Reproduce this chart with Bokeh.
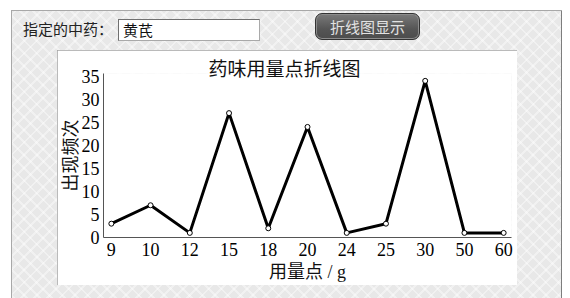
from bokeh.plotting import figure
from bokeh.models import Div, Range1d, FixedTicker
from bokeh.layouts import column
from bokeh.embed import file_html
from bokeh.resources import INLINE

# data
doses = ["9", "10", "12", "15", "18", "20", "24", "25", "30", "50", "60"]
freq = [3, 7, 1, 27, 2, 24, 1, 3, 34, 1, 1]
y_ticks = [0, 5, 10, 15, 20, 25, 30, 35]
title_text = "药味用量点折线图"
x_label = "用量点 / g"
y_label = "出现频次"
herb_label = "指定的中药："
herb_value = "黄芪"
button_label = "折线图显示"

xs = list(range(len(doses)))

CJK = "Noto Sans CJK SC"
SERIF = "Liberation Serif"

p = figure(width=460, height=235, output_backend="svg", toolbar_location=None,
           x_range=Range1d(-0.2, len(doses) - 1 + 0.2), y_range=Range1d(0, 35.6),
           min_border_left=45, min_border_right=6, min_border_top=23, min_border_bottom=48,
           background_fill_color="white", border_fill_color="white",
           outline_line_color=None, margin=(0, 53, 13, 57),
           styles={"outline": "1px solid #a3a3a3", "outline-offset": "-1px"})

p.title.text = title_text
p.title.text_font = CJK
p.title.text_font_size = "19px"
p.title.text_font_style = "normal"
p.title.text_color = "#111111"
p.title.align = "left"
p.title.offset = 105
p.title.standoff = -15

p.line(xs, freq, line_width=3, color="black")
p.scatter(xs, freq, size=5, fill_color="white", line_color="black", line_width=1)

p.xgrid.grid_line_color = None
p.ygrid.grid_line_color = None

p.xaxis.ticker = FixedTicker(ticks=xs)
p.xaxis.major_label_overrides = {i: d for i, d in enumerate(doses)}
p.yaxis.ticker = FixedTicker(ticks=y_ticks)

for ax in (p.xaxis[0], p.yaxis[0]):
    ax.major_tick_out = 0
    ax.major_tick_in = 0
    ax.minor_tick_out = 0
    ax.minor_tick_in = 0
    ax.axis_line_color = "#555555"
    ax.axis_line_width = 1
    ax.major_label_text_font = SERIF
    ax.major_label_text_font_size = "18px"
    ax.major_label_text_color = "black"
    ax.axis_label_text_font = SERIF + ", " + CJK
    ax.axis_label_text_font_size = "18px"
    ax.axis_label_text_font_style = "normal"
    ax.axis_label_text_color = "#111111"

p.xaxis.axis_label = x_label
p.yaxis.axis_label = y_label
p.xaxis.major_label_standoff = 5
p.xaxis.axis_label_standoff = 3
p.yaxis.major_label_standoff = 4
p.yaxis.axis_label_standoff = -2

header_html = f"""
<div style="position:relative;width:570px;height:50px;font-family:'{CJK}';">
  <span style="position:absolute;left:23px;top:18px;font-size:15px;line-height:22px;color:#222;white-space:nowrap">{herb_label}</span>
  <div style="position:absolute;left:118px;top:19px;width:142px;height:22px;box-sizing:border-box;background:#fff;border:1px solid #a9a9a9;border-top-color:#707070;border-left-color:#707070;font-size:15px;line-height:20px;padding-left:4px;color:#111;white-space:nowrap">{herb_value}</div>
  <div style="position:absolute;left:315px;top:13px;width:105px;height:27px;box-sizing:border-box;border-radius:7px;border:1px solid #333;box-shadow:inset 0 0 0 1px #8c8c8c;background:linear-gradient(#7a7a7a,#555 60%,#4c4c4c);color:#e2e2e2;font-size:15px;line-height:25px;text-align:center;white-space:nowrap">{button_label}</div>
</div>
"""
header = Div(text=header_html, width=570, height=50, margin=(0, 0, 0, 0))

bg_layers = [
    ("linear-gradient(#fff,#fff)", "0 0", "100% 10px"),
    ("linear-gradient(#fff,#fff)", "0 0", "11px 100%"),
    ("linear-gradient(#fff,#fff)", "562px 0", "8px 100%"),
    ("linear-gradient(#a8a8a8,#a8a8a8)", "0 10px", "100% 1px"),
    ("linear-gradient(#a8a8a8,#a8a8a8)", "11px 0", "1px 100%"),
    ("linear-gradient(#7d7d7d,#7d7d7d)", "561px 0", "1px 100%"),
    ("repeating-linear-gradient(45deg, rgba(255,255,255,0.4) 0px, rgba(255,255,255,0.4) 2px, transparent 2px, transparent 9px)", "0 0", "100% 100%"),
    ("repeating-linear-gradient(-45deg, rgba(255,255,255,0.4) 0px, rgba(255,255,255,0.4) 2px, transparent 2px, transparent 9px)", "0 0", "100% 100%"),
]
styles = {
    "background-color": "#e8e8e8",
    "background-image": ", ".join(l[0] for l in bg_layers),
    "background-position": ", ".join(l[1] for l in bg_layers),
    "background-size": ", ".join(l[2] for l in bg_layers),
    "background-repeat": ", ".join("no-repeat" for _ in bg_layers),
}

layout = column(header, p, styles=styles, spacing=0, width=570, height=298)

open("out.html", "w").write(file_html(layout, INLINE))
